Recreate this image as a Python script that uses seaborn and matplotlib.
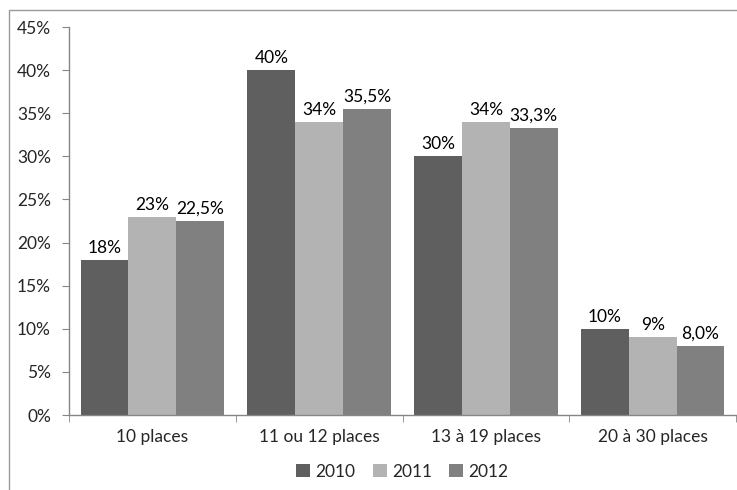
import matplotlib
matplotlib.use("Agg")
import matplotlib.pyplot as plt
import seaborn as sns
import pandas as pd
from matplotlib.patches import Rectangle

categories = ["10 places", "11 ou 12 places", "13 à 19 places", "20 à 30 places"]
years = ["2010", "2011", "2012"]
v2010 = [18, 40, 30, 10]
v2011 = [23, 34, 34, 9]
v2012 = [22.5, 35.5, 33.3, 8.0]
lab2010 = ["18%", "40%", "30%", "10%"]
lab2011 = ["23%", "34%", "34%", "9%"]
lab2012 = ["22,5%", "35,5%", "33,3%", "8,0%"]
yticks = [0, 5, 10, 15, 20, 25, 30, 35, 40, 45]
ytick_labels = ["0%", "5%", "10%", "15%", "20%", "25%", "30%", "35%", "40%", "45%"]

rows = []
for yr, vals in zip(years, [v2010, v2011, v2012]):
    for c, v in zip(categories, vals):
        rows.append({"cat": c, "year": yr, "val": v})
df = pd.DataFrame(rows)

sns.set_style("white")
plt.rcParams["font.family"] = ["Lato", "DejaVu Sans"]
FS = 12.5

fig = plt.figure(figsize=(7.37, 4.9), dpi=100)
ax = fig.add_axes([69/737, 1-415/490, (736-69)/737, (415-27)/490])

palette = {"2010": "#5f5f5f", "2011": "#b3b3b3", "2012": "#808080"}
sns.barplot(data=df, x="cat", y="val", hue="year", palette=palette, ax=ax,
            width=0.86, gap=0, saturation=1, legend=True, edgecolor="none")

labels_all = [lab2010, lab2011, lab2012]
for cont, labs in zip(ax.containers, labels_all):
    ax.bar_label(cont, labels=labs, padding=3, fontsize=FS, color="#000000")

ax.set_ylim(0, 45)
ax.set_yticks(yticks)
ax.set_yticklabels(ytick_labels, fontsize=FS)
ax.set_xlim(-0.5, 3.5)
ax.set_xticks([0, 1, 2, 3])
ax.set_xticklabels(categories, fontsize=FS)
ax.tick_params(axis="x", length=0, pad=10)
ax.set_xticks([-0.5, 0.5, 1.5, 2.5, 3.5], minor=True)
ax.tick_params(axis="x", which="minor", length=5, color="#868686", direction="out", bottom=True)
ax.tick_params(axis="y", length=5, color="#868686", direction="out", left=True, pad=8)
ax.set_xlabel("")
ax.set_ylabel("")
for s in ["top", "right"]:
    ax.spines[s].set_visible(False)
for s in ["left", "bottom"]:
    ax.spines[s].set_color("#868686")
    ax.spines[s].set_linewidth(1)

leg = ax.legend(loc="upper center", bbox_to_anchor=(0.5, -0.085), ncol=3, frameon=False,
                fontsize=FS, handlelength=0.8, handleheight=0.8, handletextpad=0.3,
                columnspacing=1.0)

fig.patches.append(Rectangle((9/737, -0.1), 1.2, 1 - 10/490 + 0.1, transform=fig.transFigure,
                             fill=False, edgecolor="#9a9a9a", linewidth=1))

fig.savefig("out.png", dpi=100)
